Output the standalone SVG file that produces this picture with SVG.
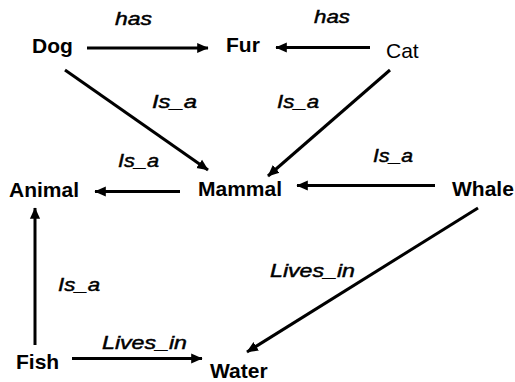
<svg xmlns="http://www.w3.org/2000/svg" width="515" height="382" viewBox="0 0 515 382">
<defs>
<marker id="ah" markerWidth="4" markerHeight="4" refX="3.6" refY="2" orient="auto" markerUnits="strokeWidth">
<path d="M0,0.3 L3.8,2 L0,3.7 Z" fill="#000"/>
</marker>
<style>
.n{font-family:"Liberation Sans",Arial,sans-serif;font-size:21px;font-weight:bold;fill:#000}
.l{font-family:"Liberation Sans",Arial,sans-serif;font-size:18px;font-style:italic;fill:#000;stroke:#000;stroke-width:0.45}
.e{stroke:#000;stroke-width:3;fill:none;marker-end:url(#ah)}
</style>
</defs>
<rect width="515" height="382" fill="#fff"/>
<g id="edges">
<line class="e" x1="87" y1="48" x2="208" y2="48"/>
<line class="e" x1="370" y1="47.5" x2="276" y2="47.5"/>
<line class="e" x1="65" y1="70" x2="208" y2="170"/>
<line class="e" x1="390" y1="70" x2="268" y2="176"/>
<line class="e" x1="180" y1="191.5" x2="95" y2="191.5"/>
<line class="e" x1="435" y1="185.5" x2="297" y2="185.5"/>
<line class="e" x1="478" y1="208" x2="247" y2="352"/>
<line class="e" x1="35" y1="345" x2="35" y2="208"/>
<line class="e" x1="72" y1="358.5" x2="202" y2="358.5"/>
<text class="l" x="115" y="25" textLength="37" lengthAdjust="spacingAndGlyphs">has</text>
<text class="l" x="314" y="23" textLength="36" lengthAdjust="spacingAndGlyphs">has</text>
<text class="l" x="152" y="108" textLength="45" lengthAdjust="spacingAndGlyphs">Is_a</text>
<text class="l" x="277" y="108" textLength="42" lengthAdjust="spacingAndGlyphs">Is_a</text>
<text class="l" x="118" y="167" textLength="41" lengthAdjust="spacingAndGlyphs">Is_a</text>
<text class="l" x="373" y="162" textLength="40" lengthAdjust="spacingAndGlyphs">Is_a</text>
<text class="l" x="58" y="291" textLength="42" lengthAdjust="spacingAndGlyphs">Is_a</text>
<text class="l" x="270" y="277" textLength="85" lengthAdjust="spacingAndGlyphs">Lives_in</text>
<text class="l" x="102" y="349" textLength="85" lengthAdjust="spacingAndGlyphs">Lives_in</text>
</g>
<g id="dog"><text class="n" x="32" y="53">Dog</text></g>
<g id="fur"><text class="n" x="226" y="52">Fur</text></g>
<g id="cat"><text class="n" x="386" y="58" style="font-weight:normal">Cat</text></g>
<g id="animal"><text class="n" x="9" y="197">Animal</text></g>
<g id="mammal"><text class="n" x="198" y="196">Mammal</text></g>
<g id="whale"><text class="n" x="452" y="196">Whale</text></g>
<g id="fish"><text class="n" x="16" y="369">Fish</text></g>
<g id="water"><text class="n" x="210" y="378">Water</text></g>
</svg>
